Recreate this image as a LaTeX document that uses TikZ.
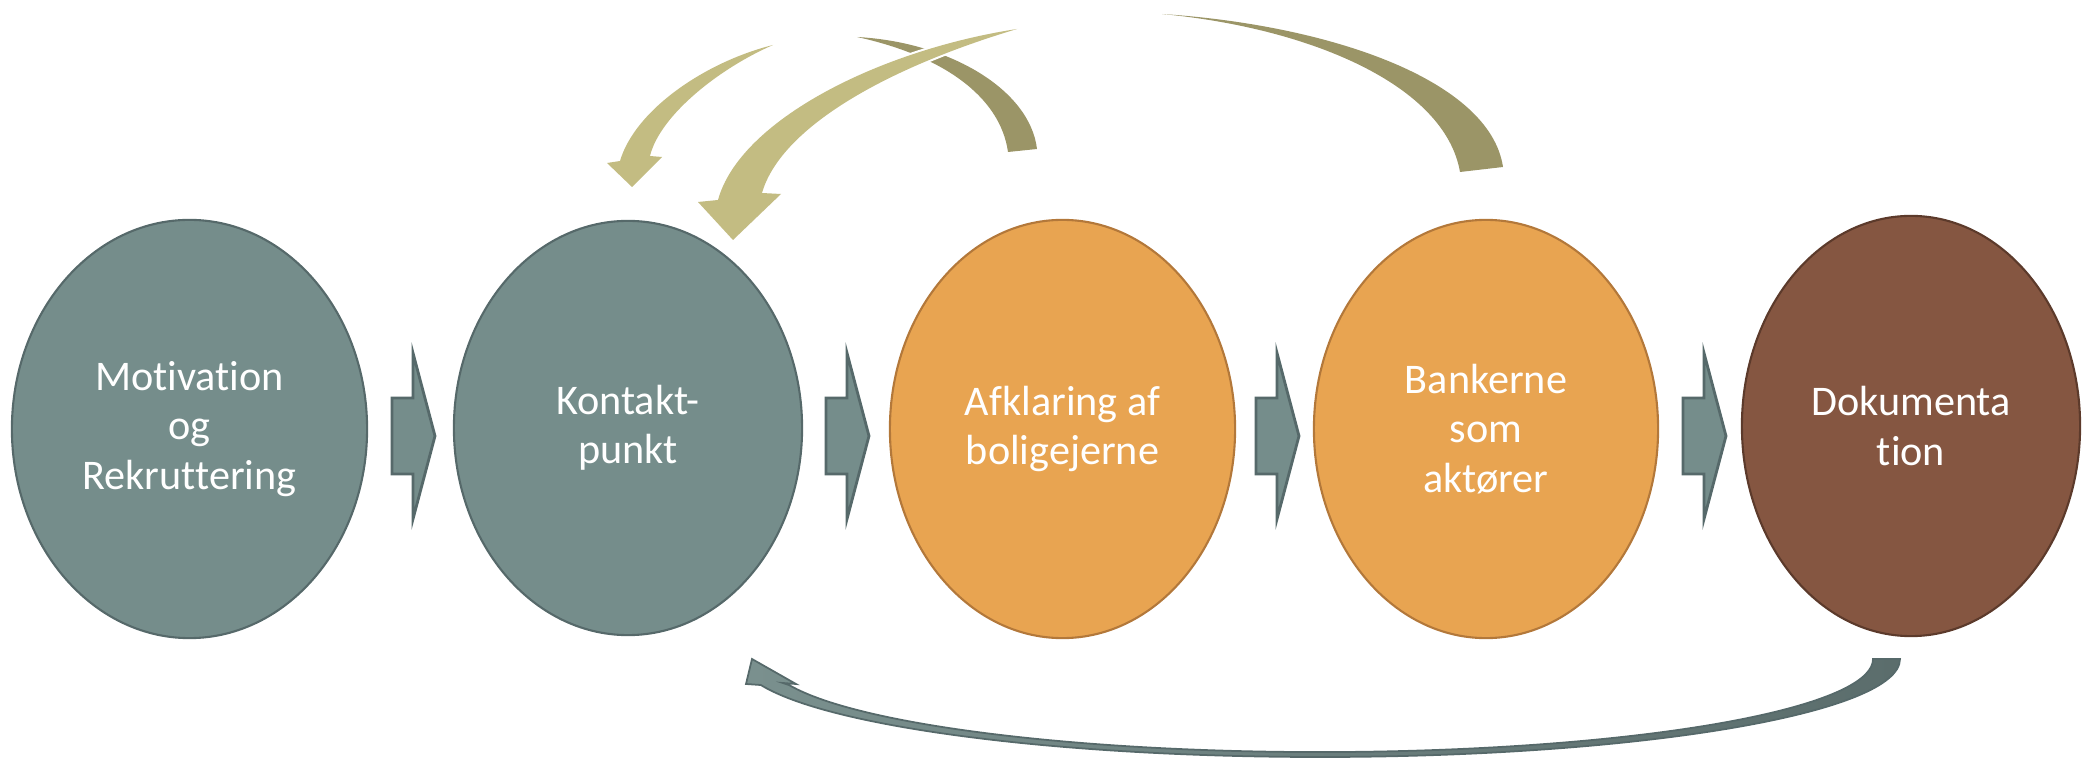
\documentclass[tikz,border=0pt]{standalone}
\usepackage{fontspec}
\setmainfont{Carlito}[Ligatures=NoCommon]
\usetikzlibrary{shapes.geometric}
\definecolor{cTeal}{HTML}{758D8B}
\definecolor{cTealD}{HTML}{56696A}
\definecolor{cOrange}{HTML}{E8A451}
\definecolor{cOrangeD}{HTML}{B3783A}
\definecolor{cBrown}{HTML}{855641}
\definecolor{cBrownD}{HTML}{5C3A2B}
\definecolor{cLight}{HTML}{C3BC82}
\definecolor{cDark}{HTML}{9B9567}
\definecolor{cArcL}{HTML}{7A908E}
\definecolor{cArcR}{HTML}{5B6D6C}
\begin{document}
\begin{tikzpicture}[x=0.01cm,y=-0.01cm,
  stage/.style={ellipse, inner sep=0pt, outer sep=0pt, line width=0.6pt,
    text=white, align=center, font=\fontsize{12}{14}\selectfont},
  tealstage/.style={stage, fill=cTeal, draw=cTealD},
  orangestage/.style={stage, fill=cOrange, draw=cOrangeD},
  brownstage/.style={stage, fill=cBrown, draw=cBrownD},
  chev/.style={fill=cTeal, draw=cTealD, line width=0.8pt, line join=miter},
  lightrib/.style={fill=cLight},
  darkrib/.style={fill=cDark},
  backarc/.style={left color=cArcL, right color=cArcR, draw=cTealD, line width=0.5pt}
]
\useasboundingbox (0,0) rectangle (2087,758);

% stages
\node[tealstage, minimum width=3.55cm, minimum height=4.18cm] (s1) at (189.5,429) {Motivation\\og\\Rekruttering};
\node[tealstage, minimum width=3.48cm, minimum height=4.14cm] (s2) at (628,428) {Kontakt-\\punkt};
\node[orangestage, minimum width=3.45cm, minimum height=4.18cm] (s3) at (1062.5,429) {Afklaring af\\boligejerne};
\node[orangestage, minimum width=3.44cm, minimum height=4.18cm] (s4) at (1486,429) {Bankerne\\som\\aktører};
\node[brownstage, minimum width=3.38cm, minimum height=4.20cm] (s5) at (1911,426) {Dokumenta\\tion};

% chevrons between stages
\foreach \L in {392,826,1256,1683}{
  \draw[chev] (\L,398) -- (\L+21,398) -- (\L+21,353) -- (\L+43,436)
    -- (\L+21,519) -- (\L+21,474) -- (\L,474) -- cycle;
}

% top curved arrows: dark back faces
\fill[darkrib] (1162,14) .. controls (1330,25) and (1490,80) .. (1503,167)
  -- (1460,172) .. controls (1445,85) and (1310,28) .. (1162,14) -- cycle;
\fill[darkrib] (857,37) .. controls (950,42) and (1030,90) .. (1037,149)
  -- (1008,152) .. controls (1000,95) and (940,55) .. (857,37) -- cycle;

% light front faces with heads
\fill[lightrib] (773,45) .. controls (705,62) and (635,110) .. (620,161)
  -- (607,163) -- (632,187) -- (662,157) -- (650,156)
  .. controls (660,115) and (720,68) .. (773,45) -- cycle;
\filldraw[lightrib, draw=white, line width=1.2pt] (1017,29) .. controls (880,50) and (740,120) .. (718,200)
  -- (698,202) -- (733,240) -- (781,194) -- (762,193)
  .. controls (780,130) and (880,70) .. (1017,29) -- cycle;
\fill[lightrib] (1017,29) .. controls (880,50) and (740,120) .. (718,200)
  -- (698,202) -- (733,240) -- (781,194) -- (762,193)
  .. controls (780,130) and (880,70) .. (1017,29) -- cycle;

% bottom return arrow
\filldraw[backarc] (1900,659) arc[start angle=0, end angle=164.6, x radius=580, y radius=98]
  -- (746,684) -- (752,659) -- (796,684) -- (783,683) -- (789,685)
  arc[start angle=163.8, end angle=0, x radius=553, y radius=93] -- cycle;
\end{tikzpicture}
\end{document}
